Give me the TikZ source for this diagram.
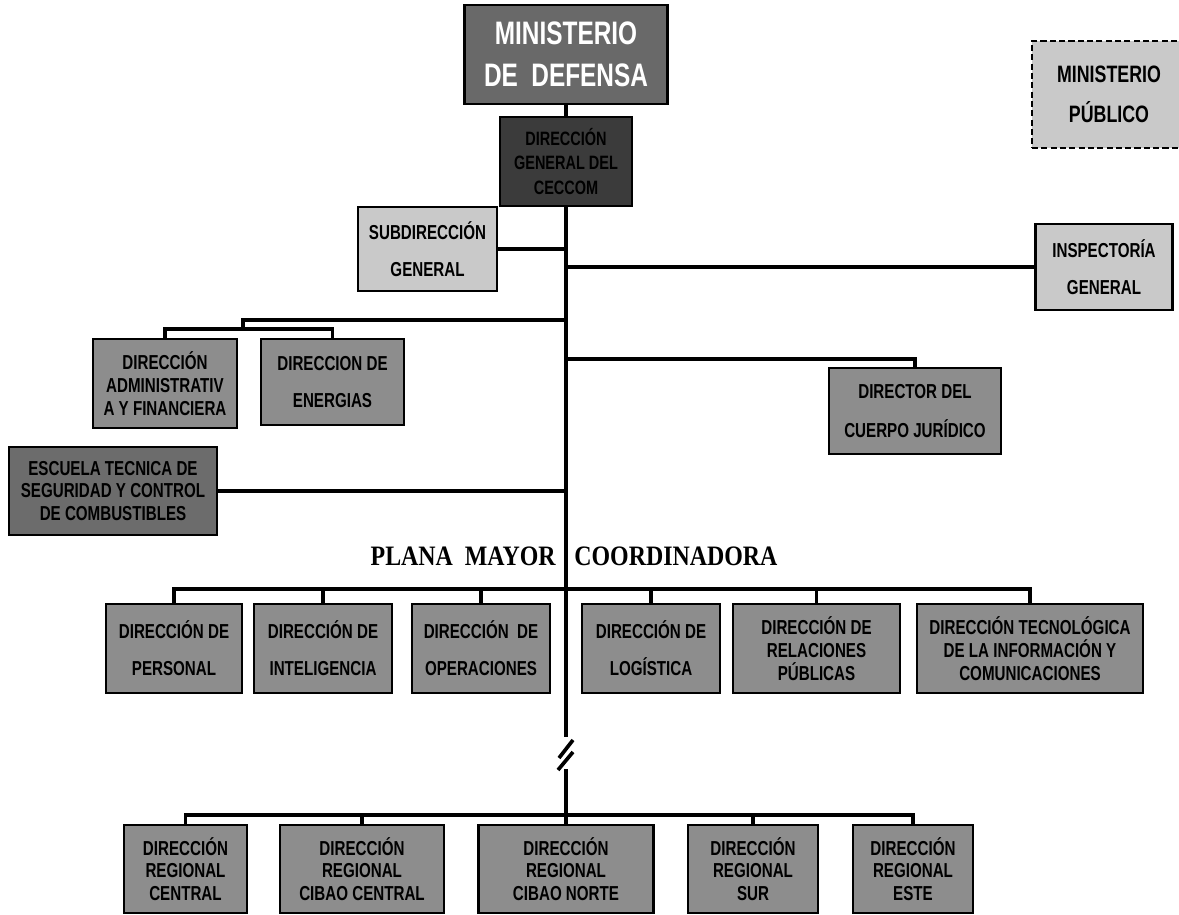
\documentclass[tikz,border=0pt]{standalone}
\usepackage{fontspec}
\setmainfont{Liberation Sans}[FakeStretch=0.75]
\newfontfamily\staffFont{Liberation Serif}[FakeStretch=0.85]
\usepackage{tikz}
\usetikzlibrary{positioning}
\definecolor{grisMinDef}{HTML}{696969}
\definecolor{grisCeccom}{HTML}{3B3B3B}
\definecolor{grisClaro}{HTML}{C9C9C9}
\definecolor{grisMedio}{HTML}{8D8D8D}
\definecolor{grisEscuela}{HTML}{6C6C6C}
\tikzset{
    unit/.style={rectangle, draw=black, line width=1.3pt, align=center, inner sep=1pt, font=\bfseries\fontsize{11.5}{13}\selectfont},
    boxSize/.style 2 args={minimum width=#1*0.02cm, minimum height=#2*0.02cm},
    topUnit/.style={unit, fill=grisMinDef, text=white, font=\bfseries\fontsize{18.5}{21}\selectfont},
    headUnit/.style={unit, fill=grisCeccom, font=\bfseries\fontsize{11}{14}\selectfont},
    lightUnit/.style={unit, fill=grisClaro},
    midUnit/.style={unit, fill=grisMedio},
    schoolUnit/.style={unit, fill=grisEscuela},
    extUnit/.style={unit, fill=grisClaro, dash pattern=on 3.5pt off 1.8pt, font=\bfseries\fontsize{13.5}{15}\selectfont},
    conn/.style={line width=2.1pt},
    staffLabel/.style={inner sep=0pt, font=\staffFont\bfseries\fontsize{16}{18}\selectfont}
}
\begin{document}
\begin{tikzpicture}[x=0.02cm, y=-0.02cm]
        \useasboundingbox (0,0) rectangle (1179,915);

        % Top
        \node[topUnit, boxSize={203}{99}] (MinDef) at (566,54.5) {MINISTERIO\\[3pt]DE~~DEFENSA};
        \node[headUnit, boxSize={132}{89}] (Ceccom) at (566,161.5) {DIRECCIÓN\\GENERAL DEL\\CECCOM};
        \node[extUnit, boxSize={154}{107}] (MinPub) at (1109,94.5) {MINISTERIO\\[8pt]PÚBLICO};

        % Staff
        \node[lightUnit, boxSize={139}{84}] (Subdir) at (427.5,249) {SUBDIRECCIÓN\\[8pt]GENERAL};
        \node[lightUnit, boxSize={137}{86}] (Inspect) at (1104,267) {INSPECTORÍA\\[8pt]GENERAL};
        \node[midUnit, boxSize={144}{89}] (Admin) at (165,383.5) {DIRECCIÓN\\ADMINISTRATIV\\A Y FINANCIERA};
        \node[midUnit, boxSize={143}{86}] (Energias) at (332.5,382) {DIRECCION DE\\[8pt]ENERGIAS};
        \node[midUnit, boxSize={172}{86}] (Juridico) at (915,411) {DIRECTOR DEL\\[9pt]CUERPO JURÍDICO};
        \node[schoolUnit, boxSize={208}{88}] (Escuela) at (113,491) {ESCUELA TECNICA DE\\SEGURIDAD Y CONTROL\\DE COMBUSTIBLES};

        % Plana mayor
        \node[staffLabel, anchor=base east] (planaL) at (556,565) {PLANA~~MAYOR};
        \node[staffLabel, anchor=base west] (planaR) at (574,565) {COORDINADORA};
        \node[midUnit, boxSize={136}{89}] (Personal) at (174,648.5) {DIRECCIÓN DE\\[8pt]PERSONAL};
        \node[midUnit, boxSize={138}{89}] (Intel) at (323,648.5) {DIRECCIÓN DE\\[8pt]INTELIGENCIA};
        \node[midUnit, boxSize={138}{89}] (Operac) at (481,648.5) {DIRECCIÓN~~DE\\[8pt]OPERACIONES};
        \node[midUnit, boxSize={138}{89}] (Logist) at (651,648.5) {DIRECCIÓN DE\\[8pt]LOGÍSTICA};
        \node[midUnit, boxSize={167}{89}] (Relac) at (816.5,648.5) {DIRECCIÓN DE\\RELACIONES\\PÚBLICAS};
        \node[midUnit, boxSize={226}{89}] (Tecno) at (1030,648.5) {DIRECCIÓN TECNOLÓGICA\\DE LA INFORMACIÓN Y\\COMUNICACIONES};

        % Regionales
        \node[midUnit, boxSize={123}{88}] (RCentral) at (185.5,869) {DIRECCIÓN\\REGIONAL\\CENTRAL};
        \node[midUnit, boxSize={164}{88}] (RCibaoC) at (362,869) {DIRECCIÓN\\REGIONAL\\CIBAO CENTRAL};
        \node[midUnit, boxSize={175}{88}] (RCibaoN) at (566,869) {DIRECCIÓN\\REGIONAL\\CIBAO NORTE};
        \node[midUnit, boxSize={130}{88}] (RSur) at (753,869) {DIRECCIÓN\\REGIONAL\\SUR};
        \node[midUnit, boxSize={120}{88}] (REste) at (913,869) {DIRECCIÓN\\REGIONAL\\ESTE};

        % Trunk
        \coordinate (brkT) at (566,737);
        \coordinate (brkB) at (566,769);
        \coordinate (admJ) at (243,330);
        \coordinate (admT) at (566,320);
        \coordinate (jurT) at (566,359);
        \draw[conn] (MinDef) -- (Ceccom);
        \draw[conn] (Ceccom.south) -- (brkT);
        \draw[conn] (brkB) -- (RCibaoN.north);
        \draw[conn] (brkT) ++(-7,21) -- ++(14,-18);
        \draw[conn] (brkT) ++(-8,33) -- ++(15,-18);

        % Branches
        \draw[conn] (Subdir.east) -- (Subdir.east -| Ceccom.south);
        \draw[conn] (Inspect.west) -- (Inspect.west -| Ceccom.south);
        \draw[conn] (Admin.north) -- ++(0,-9) -| (Energias.north);
        \draw[conn] (admJ) |- (admT);
        \draw[conn] (jurT) -| (Juridico.north);
        \draw[conn] (Escuela.east) -- (Escuela.east -| Ceccom.south);

        \draw[conn] (Personal.north) -- ++(0,-14) -| (Tecno.north);
        \foreach \n in {Intel, Operac, Logist, Relac}
            \draw[conn] (\n.north) -- ++(0,-14);

        \draw[conn] (RCentral.north) -- ++(0,-9) -| (REste.north);
        \foreach \n in {RCibaoC, RSur}
            \draw[conn] (\n.north) -- ++(0,-9);
    \end{tikzpicture}
\end{document}
